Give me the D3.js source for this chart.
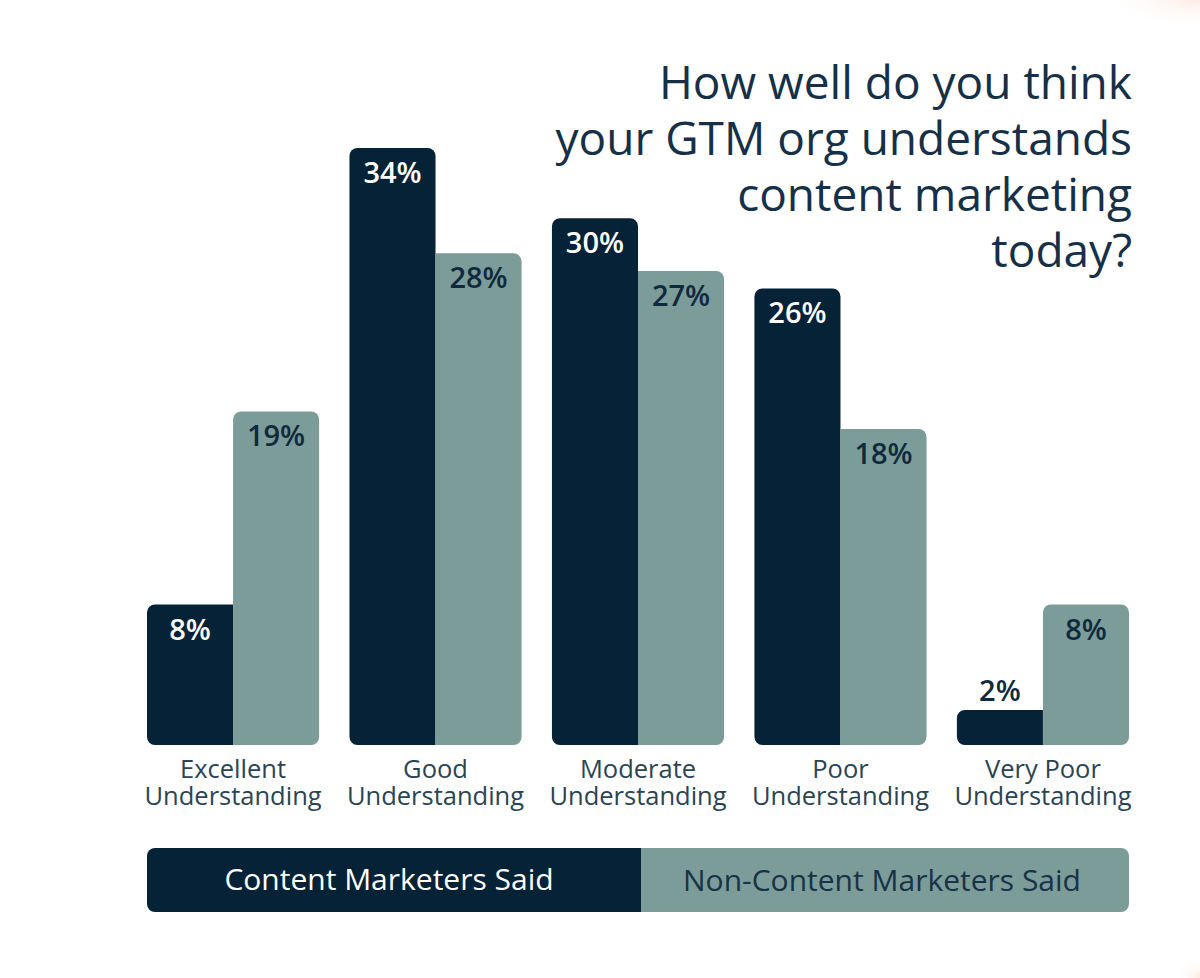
<!DOCTYPE html>
<html>
<head>
<meta charset="utf-8">
<script src="https://cdn.jsdelivr.net/npm/d3@7"></script>
<style>
  html, body { margin: 0; padding: 0; background: #ffffff; }
  svg { display: block; font-family: "Open Sans", "Noto Sans", sans-serif; }
</style>
</head>
<body>
<svg id="chart" width="1200" height="978"></svg>
<script>
const categories = [
  ["Excellent", "Understanding"],
  ["Good", "Understanding"],
  ["Moderate", "Understanding"],
  ["Poor", "Understanding"],
  ["Very Poor", "Understanding"]
];
const seriesNames = ["Content Marketers Said", "Non-Content Marketers Said"];
const contentMarketers = [8, 34, 30, 26, 2];
const nonContentMarketers = [19, 28, 27, 18, 8];
const titleLines = ["How well do you think", "your GTM org understands", "content marketing", "today?"];

const colors = ["#052237", "#7b9c98"];
const textOn = ["#ffffff", "#0e2a3c"];

const svg = d3.select("#chart");

// faint warm corner glows
const defs = svg.append("defs");
const g1 = defs.append("radialGradient").attr("id", "glowTR").attr("cx", 1).attr("cy", 0).attr("r", 1);
g1.append("stop").attr("offset", "0%").attr("stop-color", "#fbe3d6").attr("stop-opacity", 0.7);
g1.append("stop").attr("offset", "100%").attr("stop-color", "#ffffff").attr("stop-opacity", 0);
svg.append("rect").attr("x", 1100).attr("y", 0).attr("width", 100).attr("height", 30).attr("fill", "url(#glowTR)");
const g2 = defs.append("radialGradient").attr("id", "glowBR").attr("cx", 1).attr("cy", 1).attr("r", 1);
g2.append("stop").attr("offset", "0%").attr("stop-color", "#fbe3d6").attr("stop-opacity", 0.7);
g2.append("stop").attr("offset", "100%").attr("stop-color", "#ffffff").attr("stop-opacity", 0);
svg.append("rect").attr("x", 1175).attr("y", 955).attr("width", 25).attr("height", 23).attr("fill", "url(#glowBR)");

const x0 = d3.scaleBand().domain(d3.range(categories.length)).range([147, 1129]).paddingInner(0.15).paddingOuter(0);
const x1 = d3.scaleBand().domain([0, 1]).range([0, x0.bandwidth()]).padding(0);
const y = d3.scaleLinear().domain([0, 34]).range([745, 148]);

const r = 8;
function barPath(x, w, top, bottom, tl, tr, bl, br) {
  const p = d3.path();
  p.moveTo(x + (tl ? r : 0), top);
  p.lineTo(x + w - (tr ? r : 0), top);
  if (tr) p.arcTo(x + w, top, x + w, top + r, r);
  p.lineTo(x + w, bottom - (br ? r : 0));
  if (br) p.arcTo(x + w, bottom, x + w - r, bottom, r);
  p.lineTo(x + (bl ? r : 0), bottom);
  if (bl) p.arcTo(x, bottom, x, bottom - r, r);
  p.lineTo(x, top + (tl ? r : 0));
  if (tl) p.arcTo(x, top, x + r, top, r);
  p.closePath();
  return p.toString();
}

const data = categories.map((c, i) => ({ i, c, v: [contentMarketers[i], nonContentMarketers[i]] }));

const groups = svg.append("g").selectAll("g").data(data).join("g")
  .attr("transform", d => `translate(${x0(d.i)},0)`);

groups.each(function(d) {
  const g = d3.select(this);
  [0, 1].forEach(s => {
    const v = d.v[s], other = d.v[1 - s];
    const bx = x1(s), bw = x1.bandwidth();
    const top = y(v), bottom = y(0);
    const innerRounded = v > other;
    const tl = s === 0 ? true : innerRounded;
    const tr = s === 1 ? true : innerRounded;
    g.append("path")
      .attr("d", barPath(bx, bw, top, bottom, tl, tr, s === 0, s === 1))
      .attr("fill", colors[s]);
    const small = (bottom - top) < 50;
    g.append("text")
      .attr("x", bx + bw / 2)
      .attr("y", small ? top - 9 : top + 35)
      .attr("text-anchor", "middle")
      .attr("font-size", 29)
      .attr("font-weight", 600)
      .attr("fill", small ? "#0e2a3c" : textOn[s])
      .text(v + "%");
  });
  const t = g.append("text")
    .attr("text-anchor", "middle")
    .attr("font-size", 25.5)
    .attr("fill", "#2a4454");
  d.c.forEach((line, k) => {
    t.append("tspan").attr("x", x0.bandwidth() / 2).attr("y", 778 + k * 27).text(line);
  });
});

// title
const title = svg.append("text")
  .attr("text-anchor", "end")
  .attr("font-size", 46)
  .attr("fill", "#163047");
titleLines.forEach((line, k) => {
  title.append("tspan").attr("x", 1132).attr("y", 99 + k * 56).text(line);
});

// legend
const splitX = 641;
const lTop = 848, lBottom = 912;
svg.append("path").attr("d", barPath(147, splitX - 147, lTop, lBottom, true, false, true, false)).attr("fill", colors[0]);
svg.append("path").attr("d", barPath(splitX, 1129 - splitX, lTop, lBottom, false, true, false, true)).attr("fill", colors[1]);
svg.append("text").attr("x", (147 + splitX) / 2 - 5).attr("y", 890).attr("text-anchor", "middle")
  .attr("font-size", 30).attr("fill", "#ffffff").text(seriesNames[0]);
svg.append("text").attr("x", (splitX + 1129) / 2 - 3).attr("y", 891).attr("text-anchor", "middle")
  .attr("font-size", 30).attr("fill", "#183246").text(seriesNames[1]);
</script>
</body>
</html>
